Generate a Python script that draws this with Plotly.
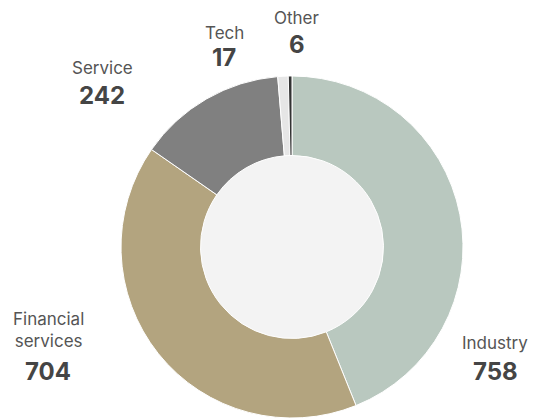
import plotly.graph_objects as go

labels = ["Industry", "Financial services", "Service", "Tech", "Other"]
label_text = ["Industry", "Financial<br>services", "Service", "Tech", "Other"]
values = [758, 704, 242, 17, 6]
colors = ["#b9c8bf", "#b3a47f", "#808080", "#e6e6e6", "#333333"]

# label text centres in pixels (x, name y, value y)
label_px = [(495, 343, 371), (48, 330, 371), (102, 68, 95), (224, 33, 58), (297, 18, 45)]

W, H = 533, 418
cx, cy, R = 292, 247, 171
FONT = "Inter, 'Noto Sans', sans-serif"

fig = go.Figure()
fig.add_trace(go.Pie(
    labels=labels, values=values, sort=False, direction="clockwise", rotation=0,
    hole=0.535, textinfo="none", hoverinfo="label+value",
    marker=dict(colors=colors, line=dict(color="white", width=1)),
    domain=dict(x=[(cx - R) / W, (cx + R) / W], y=[(H - cy - R) / H, (H - cy + R) / H]),
    showlegend=False,
))

r_in = R * 0.535
fig.add_shape(type="circle", xref="paper", yref="paper",
              x0=(cx - r_in) / W, x1=(cx + r_in) / W,
              y0=(H - cy - r_in) / H, y1=(H - cy + r_in) / H,
              fillcolor="#f3f3f3", line=dict(width=0), layer="below")

for t, v, (x, yn, yv) in zip(label_text, values, label_px):
    fig.add_annotation(x=x / W, y=(H - yn) / H, xref="paper", yref="paper", showarrow=False,
                       xanchor="center", yanchor="middle", text=t, align="center",
                       font=dict(family=FONT, size=17, color="#555555"))
    fig.add_annotation(x=x / W, y=(H - yv) / H, xref="paper", yref="paper", showarrow=False,
                       xanchor="center", yanchor="middle", text=f"<b>{v}</b>",
                       font=dict(family=FONT, size=24, color="#454545"))

fig.update_layout(width=W, height=H, margin=dict(l=0, r=0, t=0, b=0),
                  paper_bgcolor="white", plot_bgcolor="white", font=dict(family=FONT))
fig.write_html("out.html")
